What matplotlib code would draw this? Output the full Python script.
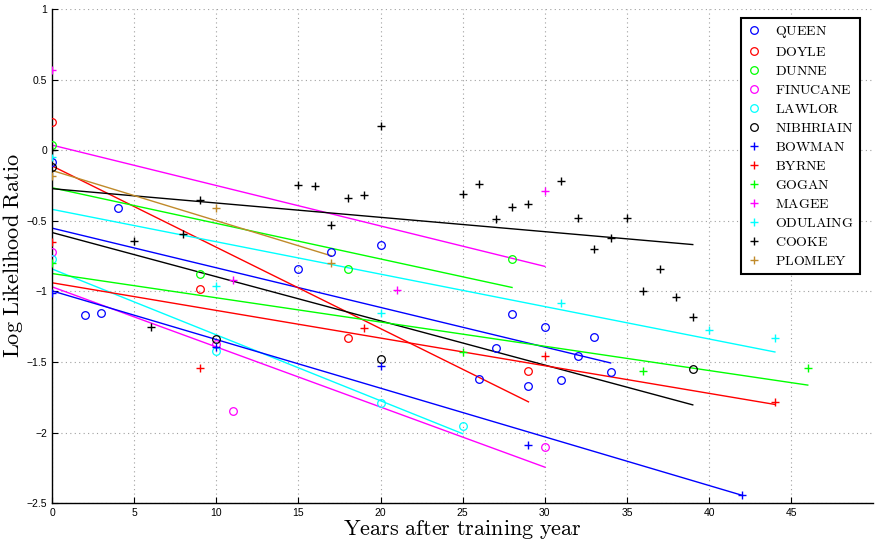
import numpy as np
import matplotlib
matplotlib.use("Agg")
import matplotlib.pyplot as plt

plt.rcParams['mathtext.fontset'] = 'cm'
plt.rcParams['font.family'] = 'Liberation Sans'

# circles
queen_x = [0, 2, 3, 4, 15, 17, 20, 26, 27, 28, 29, 30, 31, 32, 33, 34]
queen_y = [-0.08, -1.17, -1.15, -0.41, -0.84, -0.72, -0.67, -1.62, -1.40, -1.16, -1.67, -1.25, -1.63, -1.46, -1.32, -1.57]
doyle_x = [0, 9, 18, 29]
doyle_y = [0.20, -0.98, -1.33, -1.56]
dunne_x = [0, 9, 18, 28]
dunne_y = [0.04, -0.88, -0.84, -0.77]
finucane_x = [0, 10, 11, 30]
finucane_y = [-0.72, -1.37, -1.85, -2.10]
lawlor_x = [0, 10, 20, 25]
lawlor_y = [-0.77, -1.42, -1.79, -1.95]
nibhriain_x = [0, 10, 20, 39]
nibhriain_y = [-0.12, -1.34, -1.48, -1.55]

# pluses
bowman_x = [0, 10, 20, 29, 42]
bowman_y = [-1.01, -1.39, -1.53, -2.09, -2.44]
byrne_x = [0, 9, 19, 30, 44]
byrne_y = [-0.65, -1.54, -1.26, -1.46, -1.78]
gogan_x = [0, 25, 36, 46]
gogan_y = [-0.80, -1.43, -1.56, -1.54]
magee_x = [0, 11, 21, 30]
magee_y = [0.57, -0.92, -0.99, -0.29]
odulaing_x = [0, 10, 20, 31, 40, 44]
odulaing_y = [-0.05, -0.96, -1.15, -1.08, -1.27, -1.33]
cooke_x = [0, 5, 6, 8, 9, 15, 16, 17, 18, 19, 20, 25, 26, 27, 28, 29,
           31, 32, 33, 34, 35, 36, 37, 38, 39]
cooke_y = [0.0, -0.64, -1.25, -0.59, -0.35, -0.245, -0.25, -0.53, -0.34, -0.32, 0.17,
           -0.31, -0.24, -0.49, -0.40, -0.38, -0.22, -0.48, -0.70, -0.62, -0.48,
           -1.00, -0.84, -1.04, -1.18]
plomley_x = [0, 10, 17]
plomley_y = [-0.18, -0.41, -0.80]

series = [
    ("QUEEN", queen_x, queen_y, 'o', '#0000ff'),
    ("DOYLE", doyle_x, doyle_y, 'o', '#ff0000'),
    ("DUNNE", dunne_x, dunne_y, 'o', '#00ff00'),
    ("FINUCANE", finucane_x, finucane_y, 'o', '#ff00ff'),
    ("LAWLOR", lawlor_x, lawlor_y, 'o', '#00ffff'),
    ("NIBHRIAIN", nibhriain_x, nibhriain_y, 'o', '#000000'),
    ("BOWMAN", bowman_x, bowman_y, '+', '#0000ff'),
    ("BYRNE", byrne_x, byrne_y, '+', '#ff0000'),
    ("GOGAN", gogan_x, gogan_y, '+', '#00ff00'),
    ("MAGEE", magee_x, magee_y, '+', '#ff00ff'),
    ("ODULAING", odulaing_x, odulaing_y, '+', '#00ffff'),
    ("COOKE", cooke_x, cooke_y, '+', '#000000'),
    ("PLOMLEY", plomley_x, plomley_y, '+', '#c08a2a'),
]

fig = plt.figure(figsize=(8.77, 5.41), dpi=100)
ax = fig.add_axes([0.0593, 0.0697, 0.9367, 0.9137])

for nome, xs, ys, mk, cor in series:
    if mk == 'o':
        ax.plot(xs, ys, 'o', mfc='none', mec=cor, ms=5.5, mew=0.9,
                label=r'$\mathrm{%s}$' % nome, zorder=3)
    else:
        ax.plot(xs, ys, '+', color=cor, ms=6, mew=1.0,
                label=r'$\mathrm{%s}$' % nome, zorder=3)
    # linear fit over the range of each series
    a, b = np.polyfit(xs, ys, 1)
    xl = np.array([min(xs), max(xs)])
    ax.plot(xl, a * xl + b, '-', color=cor, lw=1.0, zorder=2)

ax.set_xlim(0, 50)
ax.set_ylim(-2.5, 1)
ax.set_xticks(range(0, 50, 5))
yt = [-2.5, -2, -1.5, -1, -0.5, 0, 0.5, 1]
ax.set_yticks(yt)
ax.set_yticklabels(['\u22122.5', '\u22122', '\u22121.5', '\u22121', '\u22120.5', '0', '0.5', '1'])
ax.tick_params(direction='in', labelsize=7.5, length=4, width=0.8)
ax.grid(True, linestyle=(0, (1, 3)), color='#a0a0a0', linewidth=0.8)
ax.spines['top'].set_visible(False)
ax.spines['right'].set_visible(False)
ax.spines['left'].set_linewidth(1.0)
ax.spines['bottom'].set_linewidth(1.0)

ax.set_xlabel(r'$\mathrm{Years\ after\ training\ year}$', fontsize=16)
ax.set_ylabel(r'$\mathrm{Log\ Likelihood\ Ratio}$', fontsize=16)
ax.xaxis.set_label_coords(0.5, -0.029)
ax.yaxis.set_label_coords(-0.033, 0.5)

leg = ax.legend(loc='upper right', bbox_to_anchor=(0.9835, 0.9818), borderaxespad=0,
                fontsize=10, fancybox=False, edgecolor='k', framealpha=1,
                handlelength=1.0, handletextpad=1.0, labelspacing=0.36,
                borderpad=0.45, numpoints=1)
leg.get_frame().set_linewidth(1.5)

plt.savefig('out.png', dpi=100)
